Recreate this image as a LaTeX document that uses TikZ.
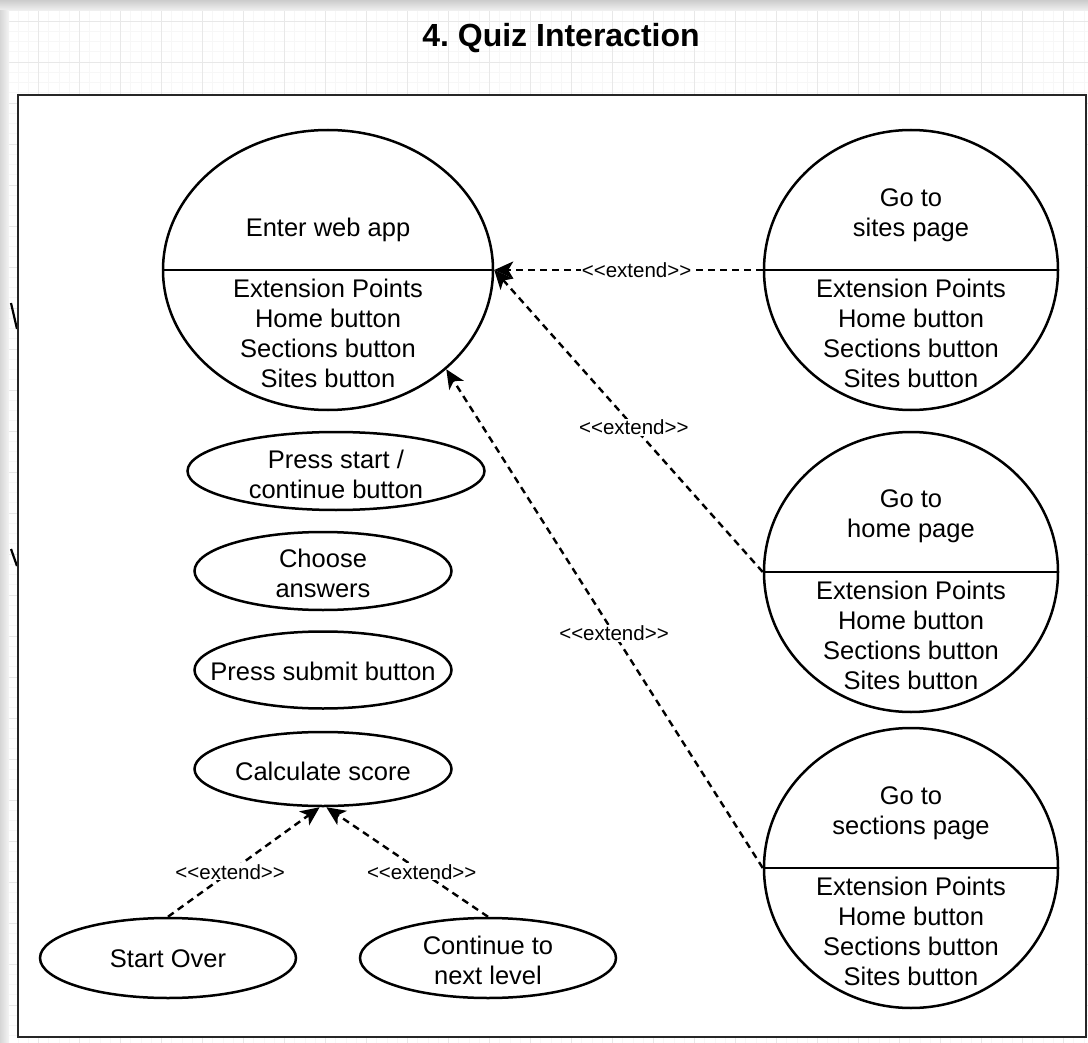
\documentclass[tikz,border=0pt]{standalone}
\usepackage{fontspec}
\setmainfont{Liberation Sans}
\usetikzlibrary{shapes.geometric,arrows.meta}
\newcommand{\extendtag}{<{}<extend>{}>}
\begin{document}
\frenchspacing
\begin{tikzpicture}[x=1pt,y=-1pt,
  usecase/.style={ellipse, draw=black, line width=2.5pt, fill=white, inner sep=0pt},
  bigcase/.style={usecase, minimum width=294pt, minimum height=280pt},
  smallcase/.style={usecase, minimum width=257pt, minimum height=77pt},
  txt/.style={font=\fontsize{25.5}{30}\selectfont, align=center, inner sep=0pt},
  divider/.style={draw=black, line width=2.5pt},
  extend/.style={draw=black, line width=2.4pt, dash pattern=on 7pt off 5pt,
    -{Stealth[length=19pt,width=17pt,inset=5pt]}},
  extlabel/.style={font=\fontsize{20.5}{24}\selectfont, fill=white, inner sep=1pt, solid},
  gridminor/.style={draw=black!3, line width=0.6pt},
  gridmajor/.style={draw=black!9, line width=0.8pt},
]
% page background with grid
\useasboundingbox (0,0) rectangle (1088,1043);
\fill[white] (0,0) rectangle (1088,1043);
\foreach \i in {0,...,106} {
  \draw[gridminor] ({38.5+10.25*(\i-4)},0) -- ({38.5+10.25*(\i-4)},1043);
}
\foreach \i in {0,...,102} {
  \draw[gridminor] (0,{62+10.25*(\i-6)}) -- (1088,{62+10.25*(\i-6)});
}
\foreach \i in {0,...,26} {
  \draw[gridmajor] ({38.5+41*\i},0) -- ({38.5+41*\i},1043);
}
\foreach \i in {0,...,25} {
  \draw[gridmajor] (0,{21+41*\i}) -- (1088,{21+41*\i});
}
% shadow bands along the top and left edges
\shade[top color=black!20, bottom color=black!5] (0,0) rectangle (1088,11);
\shade[left color=black!16, right color=black!4] (0,11) rectangle (9,1043);

% title
\node[font=\bfseries\fontsize{32}{38}\selectfont, inner sep=0pt] (title) at (561,38) {4. Quiz Interaction};

% fragments of shapes lying left of the frame
\draw[line width=2.2pt] (11,303) -- (17,329);
\draw[line width=2.2pt] (11,549) -- (17,566);

% system frame
\draw[line width=2.8pt, draw=black!85, fill=white] (18,95) rectangle (1086,1037);

% use cases with extension points
\node[bigcase, minimum width=330pt] (enter) at (328,270) {};
\draw[divider] (enter.west) -- (enter.east);
\node[txt] (enterT) at (328,230) {Enter web app};
\node[txt] (enterX) at (328,333) {Extension Points\\Home button\\Sections button\\Sites button};

\node[bigcase] (sites) at (911,270) {};
\draw[divider] (sites.west) -- (sites.east);
\node[txt] (sitesT) at (911,215) {Go to\\sites page};
\node[txt] (sitesX) at (911,333) {Extension Points\\Home button\\Sections button\\Sites button};

\node[bigcase] (home) at (911,572) {};
\draw[divider] (home.west) -- (home.east);
\node[txt] (homeT) at (911,516) {Go to\\home page};
\node[txt] (homeX) at (911,635) {Extension Points\\Home button\\Sections button\\Sites button};

\node[bigcase] (sect) at (911,868) {};
\draw[divider] (sect.west) -- (sect.east);
\node[txt] (sectT) at (911,813) {Go to\\sections page};
\node[txt] (sectX) at (911,931) {Extension Points\\Home button\\Sections button\\Sites button};

% simple use cases
\node[smallcase, minimum width=297pt, minimum height=78pt] (press) at (336,471) {};
\node[txt] (pressT) at (336,474) {Press start /\\continue button};
\node[smallcase, minimum height=78pt] (choose) at (323,571) {};
\node[txt] (chooseT) at (323,573) {Choose\\answers};
\node[smallcase] (submit) at (323,670) {};
\node[txt] (submitT) at (323,671) {Press submit button};
\node[smallcase, minimum height=74pt] (calc) at (323,769) {};
\node[txt] (calcT) at (323,771) {Calculate score};
\node[smallcase, minimum width=256pt, minimum height=80pt] (over) at (168,958) {};
\node[txt] (overT) at (168,959) {Start Over};
\node[smallcase, minimum width=256pt, minimum height=80pt] (next) at (488,958) {};
\node[txt] (nextT) at (488,960) {Continue to\\next level};

% extend relations
\draw[extend] (sites.west) -- node[extlabel, pos=0.47] {\extendtag} (enter.east);
\draw[extend] (home.west) -- node[extlabel, pos=0.48] {\extendtag} (enter.east);
\draw[extend] (sect.west) -- node[extlabel, pos=0.47] {\extendtag} (enter.-40);
\draw[extend] (over.north) -- node[extlabel, pos=0.41] {\extendtag} (calc.-95);
\draw[extend] (next.north) -- node[extlabel, pos=0.41] {\extendtag} (calc.-85);
\end{tikzpicture}
\end{document}
